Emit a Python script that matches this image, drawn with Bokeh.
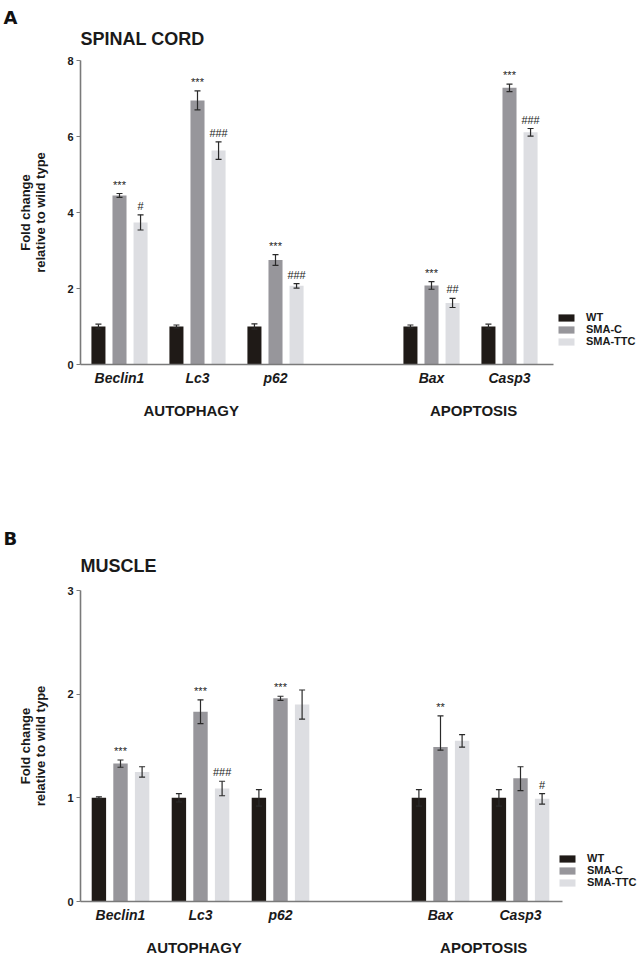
from bokeh.plotting import figure
from bokeh.layouts import column
from bokeh.models import (ColumnDataSource, Range1d, FixedTicker, LinearAxis, Legend,
                          LegendItem, Whisker, TeeHead, Title)
from bokeh.core.properties import value
from bokeh.embed import file_html
from bokeh.resources import INLINE

# ---------------- data ----------------
genes = ["Beclin1", "Lc3", "p62", "Bax", "Casp3"]
gene_pos = [0.5, 1.5, 2.5, 4.5, 5.5]
groups = ["WT", "SMA-C", "SMA-TTC"]
group_labels = ["AUTOPHAGY", "APOPTOSIS"]
group_label_pos = [1.42, 5.04]

spinal_wt = [1.0, 1.0, 1.0, 1.0, 1.0]
spinal_wt_err = [0.06, 0.04, 0.07, 0.04, 0.06]
spinal_c = [4.45, 6.95, 2.75, 2.08, 7.28]
spinal_c_err_up = [0.05, 0.25, 0.14, 0.10, 0.10]
spinal_c_err_lo = [0.05, 0.25, 0.14, 0.10, 0.10]
spinal_ttc = [3.74, 5.63, 2.07, 1.62, 6.11]
spinal_ttc_err = [0.20, 0.23, 0.06, 0.12, 0.10]
spinal_sig_c = ["***", "***", "***", "***", "***"]
spinal_sig_ttc = ["#", "###", "###", "##", "###"]
spinal_yticks = [0, 2, 4, 6, 8]

muscle_wt = [1.0, 1.0, 1.0, 1.0, 1.0]
muscle_wt_err = [0.01, 0.04, 0.08, 0.08, 0.08]
muscle_c = [1.33, 1.83, 1.96, 1.49, 1.19]
muscle_c_err_up = [0.035, 0.115, 0.02, 0.30, 0.11]
muscle_c_err_lo = [0.035, 0.115, 0.02, 0.03, 0.12]
muscle_ttc = [1.25, 1.09, 1.90, 1.55, 0.99]
muscle_ttc_err = [0.05, 0.07, 0.14, 0.06, 0.05]
muscle_sig_c = ["***", "***", "***", "**", ""]
muscle_sig_ttc = ["", "###", "", "", "#"]
muscle_yticks = [0, 1, 2, 3]

colors = ["#1f1a17", "#97969b", "#dddee2"]
offsets = [-0.27, 0.0, 0.27]
bar_width = 0.18
axis_color = "#7a7a7a"
txt = "#1a1a1a"
FONT = "Liberation Sans"


def build(letter, title, ymax, yticks, vals, up, lo, sigs, height, top, bottom,
          xmax, axis_end, legend_loc, legend_row, title_standoff, letter_standoff):
    p = figure(width=640, height=height, output_backend="svg", toolbar_location=None,
               x_range=Range1d(0, xmax), y_range=Range1d(0, ymax),
               min_border_left=80, min_border_right=0, min_border_top=top,
               min_border_bottom=bottom, x_axis_type=None, y_axis_type=None)
    p.outline_line_color = None
    p.xgrid.visible = False
    p.ygrid.visible = False

    # panel letter (outermost) and panel title (next to the frame)
    p.title = Title(text=letter, align="left", offset=-77, standoff=letter_standoff,
                    text_font="DejaVu Sans", text_font_style="bold",
                    text_font_size="18px", text_color="#111111")
    p.add_layout(Title(text=title, align="left", standoff=title_standoff, text_font=FONT,
                       text_font_style="bold", text_font_size="18px", text_color=txt),
                 "above")

    # y axis
    ya = LinearAxis(ticker=FixedTicker(ticks=yticks, minor_ticks=[]), bounds=(0, ymax))
    ya.axis_line_color = axis_color
    ya.axis_line_width = 1.6
    ya.major_tick_line_color = axis_color
    ya.major_tick_out = 4
    ya.major_tick_in = 0
    ya.minor_tick_line_color = None
    ya.major_label_standoff = 3
    ya.major_label_text_font = FONT
    ya.major_label_text_font_style = "bold"
    ya.major_label_text_font_size = "11px"
    ya.major_label_text_color = txt
    ya.axis_label = "relative to wild type"
    ya.axis_label_text_font = FONT
    ya.axis_label_text_font_style = "bold"
    ya.axis_label_text_font_size = "13px"
    ya.axis_label_text_color = txt
    ya.axis_label_standoff = 16
    p.add_layout(ya, "left")

    ya2 = LinearAxis(ticker=FixedTicker(ticks=[], minor_ticks=[]))
    ya2.axis_line_color = None
    ya2.major_tick_line_color = None
    ya2.minor_tick_line_color = None
    ya2.major_tick_out = 0
    ya2.major_label_standoff = 0
    ya2.axis_label = "Fold change"
    ya2.axis_label_text_font = FONT
    ya2.axis_label_text_font_style = "bold"
    ya2.axis_label_text_font_size = "13px"
    ya2.axis_label_text_color = txt
    ya2.axis_label_standoff = -2
    p.add_layout(ya2, "left")

    # x axis with genes
    xa = LinearAxis(ticker=FixedTicker(ticks=gene_pos, minor_ticks=[]), bounds=(0, axis_end))
    xa.major_label_overrides = {gp: g for gp, g in zip(gene_pos, genes)}
    xa.axis_line_color = axis_color
    xa.axis_line_width = 1.6
    xa.major_tick_line_color = None
    xa.major_tick_out = 0
    xa.major_tick_in = 0
    xa.minor_tick_line_color = None
    xa.major_label_standoff = 5
    xa.major_label_text_font = FONT
    xa.major_label_text_font_style = "bold italic"
    xa.major_label_text_font_size = "14px"
    xa.major_label_text_color = txt
    p.add_layout(xa, "below")

    # second axis with group names
    xb = LinearAxis(ticker=FixedTicker(ticks=group_label_pos, minor_ticks=[]))
    xb.major_label_overrides = {gp: g for gp, g in zip(group_label_pos, group_labels)}
    xb.axis_line_color = None
    xb.major_tick_line_color = None
    xb.major_tick_out = 0
    xb.major_tick_in = 0
    xb.minor_tick_line_color = None
    xb.major_label_standoff = 13
    xb.major_label_text_font = FONT
    xb.major_label_text_font_style = "bold"
    xb.major_label_text_font_size = "15px"
    xb.major_label_text_color = txt
    p.add_layout(xb, "below")

    renderers = []
    for i in range(3):
        xs = [g + offsets[i] for g in gene_pos]
        hi = [v + e for v, e in zip(vals[i], up[i])]
        low = [v - e for v, e in zip(vals[i], lo[i])]
        sig = sigs[i] if sigs[i] else [""] * len(xs)
        src = ColumnDataSource(dict(x=xs, top=vals[i], upper=hi, lower=low, sig=sig))
        r = p.vbar(x="x", top="top", width=bar_width, bottom=0, source=src,
                   fill_color=colors[i], line_color=None)
        renderers.append(r)
        w = Whisker(base="x", upper="upper", lower="lower", source=src,
                    line_color="#2a2a2a", line_width=1.2, level="overlay",
                    upper_head=TeeHead(size=6, line_color="#2a2a2a", line_width=1.2),
                    lower_head=TeeHead(size=6, line_color="#2a2a2a", line_width=1.2))
        p.add_layout(w)
        if sigs[i]:
            p.text(x="x", y="upper", text="sig", source=src, text_align="center",
                   text_baseline="bottom", y_offset=-3, text_font_size="11px",
                   text_font=value(FONT), text_color="#222222")

    legend = Legend(items=[LegendItem(label=g, renderers=[r]) for g, r in zip(groups, renderers)],
                    location=legend_loc, orientation="vertical", padding=0, margin=0,
                    spacing=0, glyph_width=20, glyph_height=9, label_height=legend_row,
                    label_standoff=10, label_text_font=FONT, label_text_font_style="bold",
                    label_text_font_size="11px", label_text_color=txt,
                    border_line_color=None, background_fill_alpha=0)
    p.add_layout(legend)
    return p


pA = build("A", "SPINAL CORD", 8, spinal_yticks,
           [spinal_wt, spinal_c, spinal_ttc],
           [spinal_wt_err, spinal_c_err_up, spinal_ttc_err],
           [spinal_wt_err, spinal_c_err_lo, spinal_ttc_err],
           [None, spinal_sig_c, spinal_sig_ttc],
           476, 60, 112, 560 / 78, 6.06, (476, 17), 12, 24, -26)

pB = build("B", "MUSCLE", 3, muscle_yticks,
           [muscle_wt, muscle_c, muscle_ttc],
           [muscle_wt_err, muscle_c_err_up, muscle_ttc_err],
           [muscle_wt_err, muscle_c_err_lo, muscle_ttc_err],
           [None, muscle_sig_c, muscle_sig_ttc],
           485, 114, 60, 560 / 80, 6.03, (477, 13), 11, 30, -20)

layout = column(pA, pB, spacing=0)
open("out.html", "w").write(file_html(layout, INLINE))
